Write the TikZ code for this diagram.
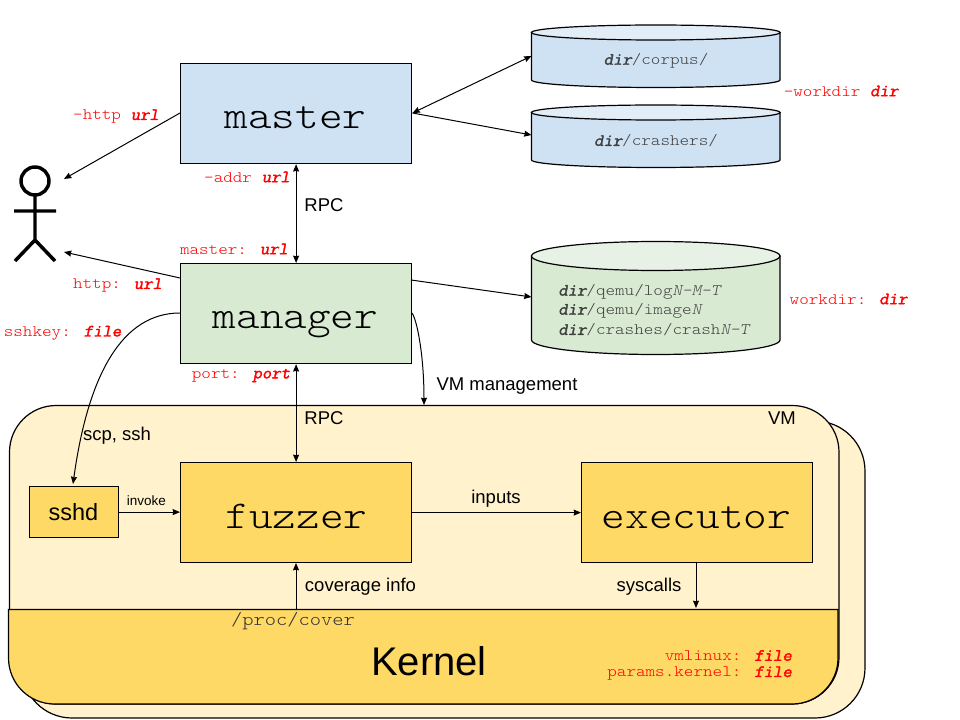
\documentclass[tikz,border=0pt]{standalone}
\usepackage{fontspec}
\setmainfont{Liberation Sans}
\newfontfamily\cour[FakeStretch=1.14]{Latin Modern Mono Light}
\newfontfamily\couri[FakeStretch=1.14,FakeSlant=0.2]{Latin Modern Mono Light}
\newfontfamily\courbi[Scale=1.08,FakeStretch=1.055,FakeBold=2,FakeSlant=0.2]{Latin Modern Mono}
\usetikzlibrary{arrows.meta}
\definecolor{blueF}{HTML}{CFE2F3}
\definecolor{blueT}{HTML}{E2EDF7}
\definecolor{greenF}{HTML}{D9EAD3}
\definecolor{greenT}{HTML}{E8F1E5}
\definecolor{vmF}{HTML}{FFF2CC}
\definecolor{yel}{HTML}{FFD966}
\definecolor{redT}{HTML}{FF0000}
\newcommand{\bi}[1]{{\courbi #1}}
\newcommand{\ita}[1]{{\couri #1}}
\newcommand{\px}[1]{\pgfmathparse{#1*0.75}\fontsize{\pgfmathresult}{\pgfmathresult}\selectfont}
\tikzset{
  x=0.75pt,y=-0.75pt,
  line/.style={draw=black,line width=0.75pt},
  arr/.style={line,-{Stealth[length=5.5pt,width=4.5pt,inset=0.5pt]}},
  darr/.style={line,{Stealth[length=5.5pt,width=4.5pt,inset=0.5pt]}-{Stealth[length=5.5pt,width=4.5pt,inset=0.5pt]}},
  box/.style={draw=black,line width=0.9pt,inner sep=0pt,anchor=north west},
  bigbox/.style={box,minimum width=173.25pt,minimum height=75pt},
  title/.style={inner sep=0pt,anchor=base,font=\cour\px{39.5}},
  lab/.style={inner sep=0pt,text=redT,font=\cour\px{16}},
  sans/.style={inner sep=0pt,font=\px{18.5}},
  cyltext/.style={inner sep=0pt,font=\cour\px{16},text=black!75},
}
\newcommand{\cyl}[7]{% x0 x1 ytop ry ybottom fill topfill
  \path[draw=black,line width=0.9pt,fill=#6] (#1,#3) -- (#1,#5) arc[start angle=180,delta angle=180,x radius={(#2-#1)/2*0.75pt},y radius={#4*0.75pt}] -- (#2,#3) -- cycle;
  \path[draw=black,line width=0.9pt,fill=#7] ({(#1+#2)/2},#3) ellipse[x radius={(#2-#1)/2*0.75pt},y radius={#4*0.75pt}];
}
\begin{document}
\begin{tikzpicture}
\useasboundingbox (0,0) rectangle (960,720);
% VM back and front
\draw[line width=0.9pt,fill=vmF,rounded corners=37.5pt] (22,421) rectangle (865,718);
\draw[line width=0.9pt,fill=vmF,rounded corners=35pt] (9.5,405.5) rectangle (839,704);
% Kernel
\draw[line width=0.9pt,fill=yel] (8.5,609.5) -- (838,609.5) -- (838,658) arc[start angle=0,delta angle=-90,radius=34.5pt] -- (54.5,704) arc[start angle=270,delta angle=-90,radius=34.5pt] -- cycle;
% boxes
\node[bigbox,fill=blueF] (master) at (180,63) {};
\node[bigbox,fill=greenF] (manager) at (180,263) {};
\node[bigbox,fill=yel] (fuzzer) at (180,462) {};
\node[bigbox,fill=yel] (executor) at (581,462) {};
\node[box,fill=yel,minimum width=66.75pt,minimum height=38.25pt] (sshd) at (29,486) {};
\node[title] at (295.5,129) {master};
\node[title] at (295.5,329) {manager};
\node[title] at (296.5,528) {fuzzer};
\node[title] at (696.5,528) {executor};
\node[inner sep=0pt,font=\px{23.5}] at (73.5,512) {sshd};
% cylinders
\cyl{531.5}{780}{32.5}{7.5}{80}{blueF}{blueT}
\cyl{531.5}{780}{112.5}{7.5}{160}{blueF}{blueT}
\cyl{531.5}{780}{256}{14.5}{340}{greenF}{greenT}
\coordinate (c1) at (531.5,56);
\coordinate (c2) at (531.5,135);
\coordinate (c3) at (531.5,297);
\node[cyltext] at (656,61) {\bi{dir}/corpus/};
\node[cyltext] at (656,141) {\bi{dir}/crashers/};
\node[cyltext,anchor=west] at (558,292) {\bi{dir}/qemu/log\ita{N-M-T}};
\node[cyltext,anchor=west] at (558,311) {\bi{dir}/qemu/image\ita{N}};
\node[cyltext,anchor=west] at (558,330) {\bi{dir}/crashes/crash\ita{N-T}};
% stick figure
\draw[line width=2.6pt] (35,181) circle[radius=10.5pt];
\draw[line width=2.6pt] (35,195) -- (35,240) (14,211) -- (56,211) (15,261) -- (35,240) -- (55,261);
\coordinate (p1) at (64,179);
\coordinate (p2) at (64,252);
% connectors
\coordinate (mR) at (412.5,113);
\coordinate (mL) at (180,113);
\coordinate (gL) at (180,278);
\coordinate (gR) at (411,280);
\coordinate (gR2) at (412,313);
\coordinate (gL2) at (180,313);
\coordinate (vmTop) at (424,405);
\coordinate (sshTop) at (73,484);
\coordinate (pc) at (296,609);
\coordinate (fb) at (296,563);
\coordinate (ex) at (696,562);
\coordinate (kt) at (696,608);
\draw[darr] (c1) -- (mR);
\draw[arr] (mR) -- (c2);
\draw[arr] (mL) -- (p1);
\draw[arr] (gL) -- (p2);
\draw[darr] (master.south) -- (manager.north);
\draw[darr] (manager.south) -- (fuzzer.north);
\draw[arr] (gR) -- (c3);
\draw[arr] (gR2) .. controls (417,320) and (424,355) .. (vmTop);
\draw[arr] (gL2) .. controls (122,313) and (88,375) .. (sshTop);
\draw[arr] (sshd.east) -- (fuzzer.west |- sshd.east);
\draw[arr] (fuzzer.east) -- (executor.west);
\draw[arr] (pc) -- (fb);
\draw[arr] (ex) -- (kt);
% labels
\node[lab] at (116,116.5) {-http \bi{url}};
\node[lab] at (247,177) {-addr \bi{url}};
\node[lab] at (234,249) {master: \bi{url}};
\node[lab] at (117.5,285.5) {http: \bi{url}};
\node[lab] at (62.5,333) {sshkey: \bi{file}};
\node[lab] at (241,375.5) {port: \bi{port}};
\node[lab] at (841,91) {-workdir \bi{dir}};
\node[lab] at (848.5,299) {workdir: \bi{dir}};
\node[lab,anchor=east] at (792,655.5) {vmlinux: \bi{file}};
\node[lab,anchor=east] at (792,673.5) {params.kernel: \bi{file}};
\node[inner sep=0pt,font=\cour\px{18.8},text=black!80] at (293,621) {/proc/cover};
\node[inner sep=0pt,font=\px{40}] at (429,661) {Kernel};
\node[sans] at (324,205) {RPC};
\node[sans] at (324,418) {RPC};
\node[sans] at (507,386) {VM management};
\node[sans] at (117,436) {scp, ssh};
\node[sans] at (782,418) {VM};
\node[inner sep=0pt,font=\px{13.5}] at (146.5,501) {invoke};
\node[sans] at (496,499) {inputs};
\node[sans] at (360.5,587) {coverage info};
\node[sans] at (649,587) {syscalls};
\end{tikzpicture}
\end{document}
